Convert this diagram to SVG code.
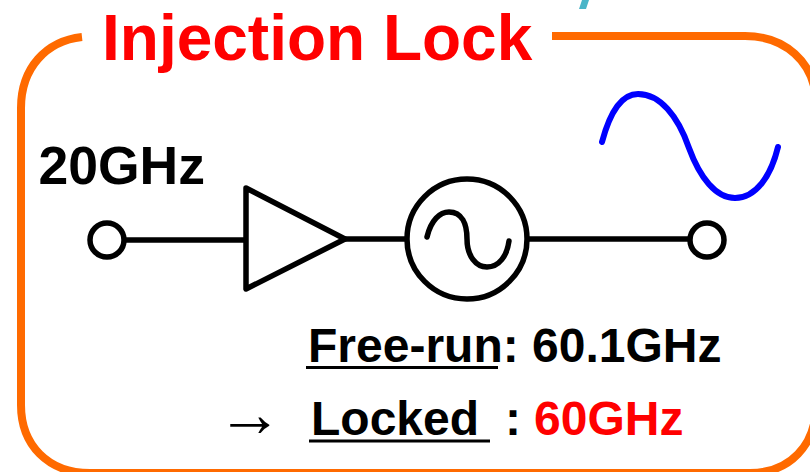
<svg xmlns="http://www.w3.org/2000/svg" width="810" height="472" viewBox="0 0 810 472">
<style>
text{font-family:"Liberation Sans",Arial,sans-serif;font-weight:700;fill:#000}
.red{fill:#f00}
.sym{fill:none;stroke:#000;stroke-width:5.500;stroke-linejoin:round;stroke-linecap:round}
.wire{fill:none;stroke:#000;stroke-width:5.500}
.ul{fill:none;stroke:#000;stroke-width:3}
</style>
<rect width="810" height="472" fill="#fff"/>
<path id="teal-fragment" d="M579 9L582 0H589L586 9Z" fill="#4bb5c8"/>
<path id="frame" d="M82 37C46 41 21 68 21 108V405C21 445 48 473 90 473H750C790 473 816 445 816 405V100C814 62 785 36 745 36H552" fill="none" stroke="#ff6a00" stroke-width="8"/>
<text id="title" class="red" x="102" y="60" font-size="64">Injection Lock</text>
<g id="connectors">
<path class="wire" d="M125 240H246M345 239H406M529 239H690"/>
</g>
<g id="input-port"><circle class="sym" cx="107" cy="240" r="17"/></g>
<text id="input-label" x="38.500" y="184" font-size="53.500">20GHz</text>
<g id="amplifier"><path class="sym" d="M246 188L345 239L246 289Z"/></g>
<g id="oscillator"><circle class="sym" cx="467" cy="239" r="60"/>
<path class="sym" d="M427 237C431 220 440 212 449 212C462 212 467 224 467 239C467 256 476 267 487 267C499 267 507 256 509 241"/></g>
<g id="output-port"><circle class="sym" cx="707" cy="240" r="17"/></g>
<g id="waveform"><path d="M602 142C610 112 622 94 638 94C660 94 678 116 689 148C700 178 716 198 735 198C756 198 771 176 778 147" fill="none" stroke="#00f" stroke-width="6" stroke-linecap="round"/></g>
<g id="freerun">
<text x="308" y="362" font-size="48">Free-run: 60.1GHz</text>
<path class="ul" d="M306 367.500H498"/>
</g>
<g id="locked">
<text x="217" y="436" font-size="66" style="font-family:'Liberation Serif',serif;font-weight:400">→</text>
<text x="311" y="435" font-size="48">Locked</text>
<text x="505" y="435" font-size="48">:</text>
<text class="red" x="534" y="435" font-size="48">60GHz</text>
<path class="ul" d="M309 441H490"/>
</g>
</svg>
